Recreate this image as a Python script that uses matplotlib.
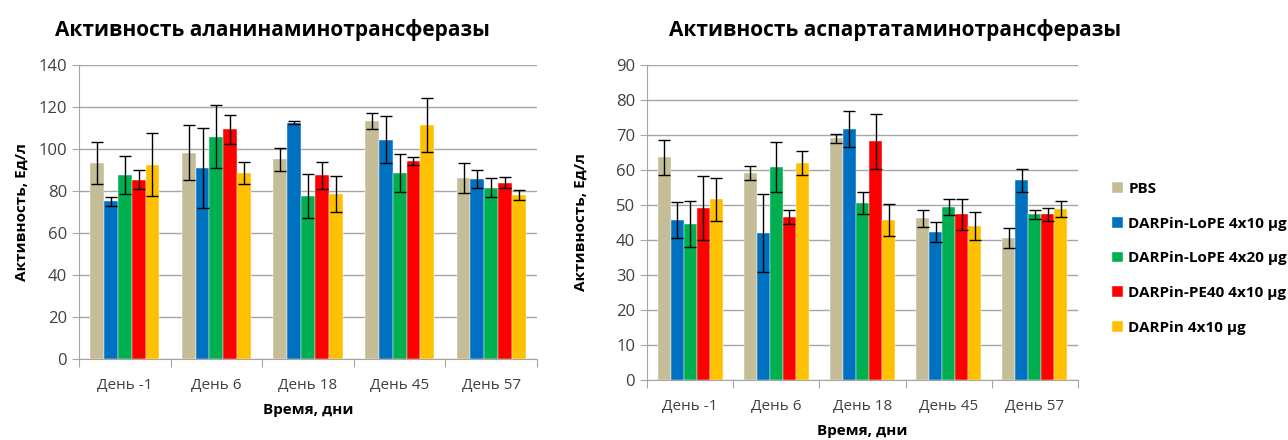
import numpy as np
import matplotlib.pyplot as plt

plt.rcParams['font.family'] = ['Open Sans', 'DejaVu Sans']

days = ['День -1', 'День 6', 'День 18', 'День 45', 'День 57']
groups = ['PBS', 'DARPin-LoPE 4x10 µg', 'DARPin-LoPE 4x20 µg',
          'DARPin-PE40 4x10 µg', 'DARPin 4x10 µg']
colors = ['#C4BD97', '#0070C0', '#00B050', '#FF0000', '#FFC000']

# АЛТ (левый график)
alt_pbs = [93.2, 98.2, 95.0, 113.3, 86.2]
alt_lope10 = [75.0, 90.8, 112.5, 104.4, 85.7]
alt_lope20 = [87.8, 105.9, 77.8, 88.6, 81.6]
alt_pe40 = [85.3, 109.3, 87.5, 94.4, 84.0]
alt_darpin = [92.4, 88.6, 78.6, 111.3, 78.1]
alt_pbs_err = [10.0, 13.0, 5.5, 3.8, 7.0]
alt_lope10_err = [2.0, 19.0, 0.7, 11.3, 4.1]
alt_lope20_err = [9.0, 15.0, 10.5, 8.9, 4.5]
alt_pe40_err = [4.5, 7.0, 6.5, 2.0, 2.5]
alt_darpin_err = [15.0, 5.3, 8.5, 12.8, 2.4]

# АСТ (правый график)
ast_pbs = [63.6, 59.0, 69.1, 46.2, 40.5]
ast_lope10 = [45.8, 42.0, 71.7, 42.2, 57.0]
ast_lope20 = [44.6, 60.9, 50.5, 49.3, 47.3]
ast_pe40 = [49.1, 46.6, 68.2, 47.3, 47.3]
ast_darpin = [51.6, 62.0, 45.6, 44.1, 48.9]
ast_pbs_err = [5.0, 2.0, 1.3, 2.4, 2.8]
ast_lope10_err = [5.1, 11.1, 5.2, 2.8, 3.2]
ast_lope20_err = [6.6, 7.2, 3.2, 2.3, 1.2]
ast_pe40_err = [9.1, 2.1, 7.8, 4.5, 1.8]
ast_darpin_err = [6.1, 3.4, 4.6, 4.0, 2.2]

alt_vals = [alt_pbs, alt_lope10, alt_lope20, alt_pe40, alt_darpin]
alt_errs = [alt_pbs_err, alt_lope10_err, alt_lope20_err, alt_pe40_err, alt_darpin_err]
ast_vals = [ast_pbs, ast_lope10, ast_lope20, ast_pe40, ast_darpin]
ast_errs = [ast_pbs_err, ast_lope10_err, ast_lope20_err, ast_pe40_err, ast_darpin_err]

fig = plt.figure(figsize=(12.88, 4.4), dpi=100)
ax1 = fig.add_axes([79 / 1288, 1 - 359 / 440, (537 - 79) / 1288, (359 - 65) / 440])
ax2 = fig.add_axes([647 / 1288, 1 - 380 / 440, (1078 - 647) / 1288, (380 - 65) / 440])


def draw(ax, vals, errs, ymax, step, ypad):
    x = np.arange(len(days))
    w = 0.151
    handles = []
    for i in range(5):
        pos = x + (i - 2) * w
        b = ax.bar(pos, vals[i], w, color=colors[i], zorder=2,
                   edgecolor='white', linewidth=0.3)
        ax.errorbar(pos, vals[i], yerr=errs[i], fmt='none', ecolor='black',
                    elinewidth=1, capsize=4, capthick=1, zorder=3)
        handles.append(b)
    ax.set_xlim(-0.5, len(days) - 0.5)
    ax.set_ylim(0, ymax)
    ax.set_yticks(np.arange(0, ymax + 1, step))
    ax.yaxis.grid(True, color='#a6a6a6', linewidth=1, zorder=0)
    ax.set_axisbelow(True)
    ax.set_xticks(np.arange(-0.5, len(days)), [''] * (len(days) + 1))
    ax.set_xticks(x, days, minor=True)
    ax.tick_params(axis='x', which='major', length=6, color='#a6a6a6')
    ax.tick_params(axis='x', which='minor', length=0, pad=14, labelsize=11,
                   labelcolor='#404040')
    ax.tick_params(axis='y', length=5, color='#a6a6a6', labelsize=12,
                   labelcolor='#404040')
    for s in ['top', 'right']:
        ax.spines[s].set_visible(False)
    for s in ['left', 'bottom']:
        ax.spines[s].set_color('#a6a6a6')
    ax.set_ylabel('Активность, Ед/л', fontsize=11, fontweight='bold', labelpad=ypad)
    ax.set_xlabel('Время, дни', fontsize=11, fontweight='bold', labelpad=7)
    return handles


draw(ax1, alt_vals, alt_errs, 140, 20, 7)
h = draw(ax2, ast_vals, ast_errs, 90, 10, 20)

fig.text(272 / 1288, 1 - 30 / 440, 'Активность аланинаминотрансферазы',
         fontsize=15, fontweight='bold', ha='center', va='center')
fig.text(895 / 1288, 1 - 30 / 440, 'Активность аспартатаминотрансферазы',
         fontsize=15, fontweight='bold', ha='center', va='center')

fig.legend(h, groups, loc='upper left', bbox_to_anchor=(1106 / 1288, 1 - 176 / 440),
           frameon=False, prop={'size': 11, 'weight': 'bold'},
           handlelength=0.7, handleheight=0.7, handletextpad=0.35,
           labelspacing=1.35, borderaxespad=0)

fig.savefig('out.png', dpi=100)
